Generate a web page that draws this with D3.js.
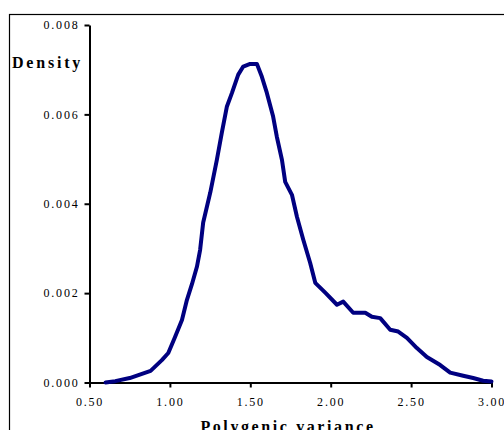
<!DOCTYPE html>
<html>
<head>
  <title>Polygenic variance density</title>
  <script src="https://cdn.jsdelivr.net/npm/d3@7"></script>
  <style>
    body { margin: 0; background: #fff; }
    svg text { font-family: "Liberation Serif", "Times New Roman", serif; }
    .axis path, .axis line { stroke: #000; stroke-width: 2px; }
    .axis text { font-size: 12px; letter-spacing: 1.8px; fill: #000; }
  </style>
</head>
<body>
  <div id="chart"></div>
  <script>
    // values
    var variance = [0.60, 0.66, 0.75, 0.88, 0.95, 0.99, 1.03, 1.075, 1.106, 1.137, 1.168, 1.188,
      1.207, 1.251, 1.292, 1.323, 1.354, 1.386, 1.425, 1.456, 1.499, 1.541, 1.572, 1.603,
      1.642, 1.665, 1.697, 1.717, 1.759, 1.790, 1.829, 1.872, 1.904, 1.966, 2.039, 2.078,
      2.140, 2.215, 2.256, 2.308, 2.370, 2.420, 2.474, 2.536, 2.598, 2.681, 2.743, 2.824,
      2.886, 2.948, 3.00];
    var density = [0.00000, 0.00003, 0.00010, 0.00026, 0.00050, 0.00066, 0.00100, 0.00140,
      0.00185, 0.00220, 0.00259, 0.00297, 0.00358, 0.00425, 0.00498, 0.00559, 0.00617,
      0.00648, 0.00689, 0.00707, 0.00713, 0.00713, 0.00684, 0.00648, 0.00595, 0.00550,
      0.00498, 0.00449, 0.00420, 0.00371, 0.00320, 0.00268, 0.00223, 0.00201, 0.00174,
      0.00181, 0.00156, 0.00156, 0.00147, 0.00144, 0.00118, 0.00114, 0.00100, 0.00077,
      0.00057, 0.00039, 0.00022, 0.00015, 0.00010, 0.00004, 0.00002];
    var xTicks = [0.5, 1.0, 1.5, 2.0, 2.5, 3.0];
    var yTicks = [0, 0.002, 0.004, 0.006, 0.008];

    var width = 504, height = 430;
    var svg = d3.select("#chart").append("svg")
        .attr("width", width)
        .attr("height", height);

    // outer frame, runs off the right and bottom edge
    svg.append("rect")
        .attr("x", 9.5).attr("y", 14.5)
        .attr("width", 600).attr("height", 600)
        .attr("fill", "none")
        .attr("stroke", "#000")
        .attr("stroke-width", 1.2);

    var x = d3.scaleLinear().domain([0.5, 3.0]).range([89.5, 491.5]);
    var y = d3.scaleLinear().domain([0, 0.008]).range([382.5, 25]);

    svg.append("g")
        .attr("class", "axis")
        .attr("transform", "translate(0," + y(0) + ")")
        .call(d3.axisBottom(x).tickValues(xTicks).tickSize(5).tickSizeOuter(0)
          .tickFormat(d3.format(".2f")))
        .selectAll("text").attr("dy", "1.25em");

    svg.append("g")
        .attr("class", "axis")
        .attr("transform", "translate(" + x(0.5) + ",0)")
        .call(d3.axisLeft(y).tickValues(yTicks).tickSize(5).tickSizeOuter(0)
          .tickFormat(d3.format(".3f")))
        .selectAll("text").attr("x", -10);

    svg.selectAll(".axis .domain").attr("stroke-width", 2.2);

    var line = d3.line()
        .x(function(d, i) { return x(variance[i]); })
        .y(function(d) { return y(d); });

    svg.append("path")
        .datum(density)
        .attr("d", line)
        .attr("fill", "none")
        .attr("stroke", "#000080")
        .attr("stroke-width", 4)
        .attr("stroke-linejoin", "round")
        .attr("stroke-linecap", "round");

    svg.append("text")
        .attr("x", 12).attr("y", 68)
        .attr("font-size", 16)
        .attr("font-weight", "bold")
        .attr("letter-spacing", "2.8px")
        .text("Density");

    svg.append("text")
        .attr("x", 288).attr("y", 432)
        .attr("text-anchor", "middle")
        .attr("font-size", 16)
        .attr("font-weight", "bold")
        .attr("letter-spacing", "2.6px")
        .text("Polygenic variance");
  </script>
</body>
</html>
